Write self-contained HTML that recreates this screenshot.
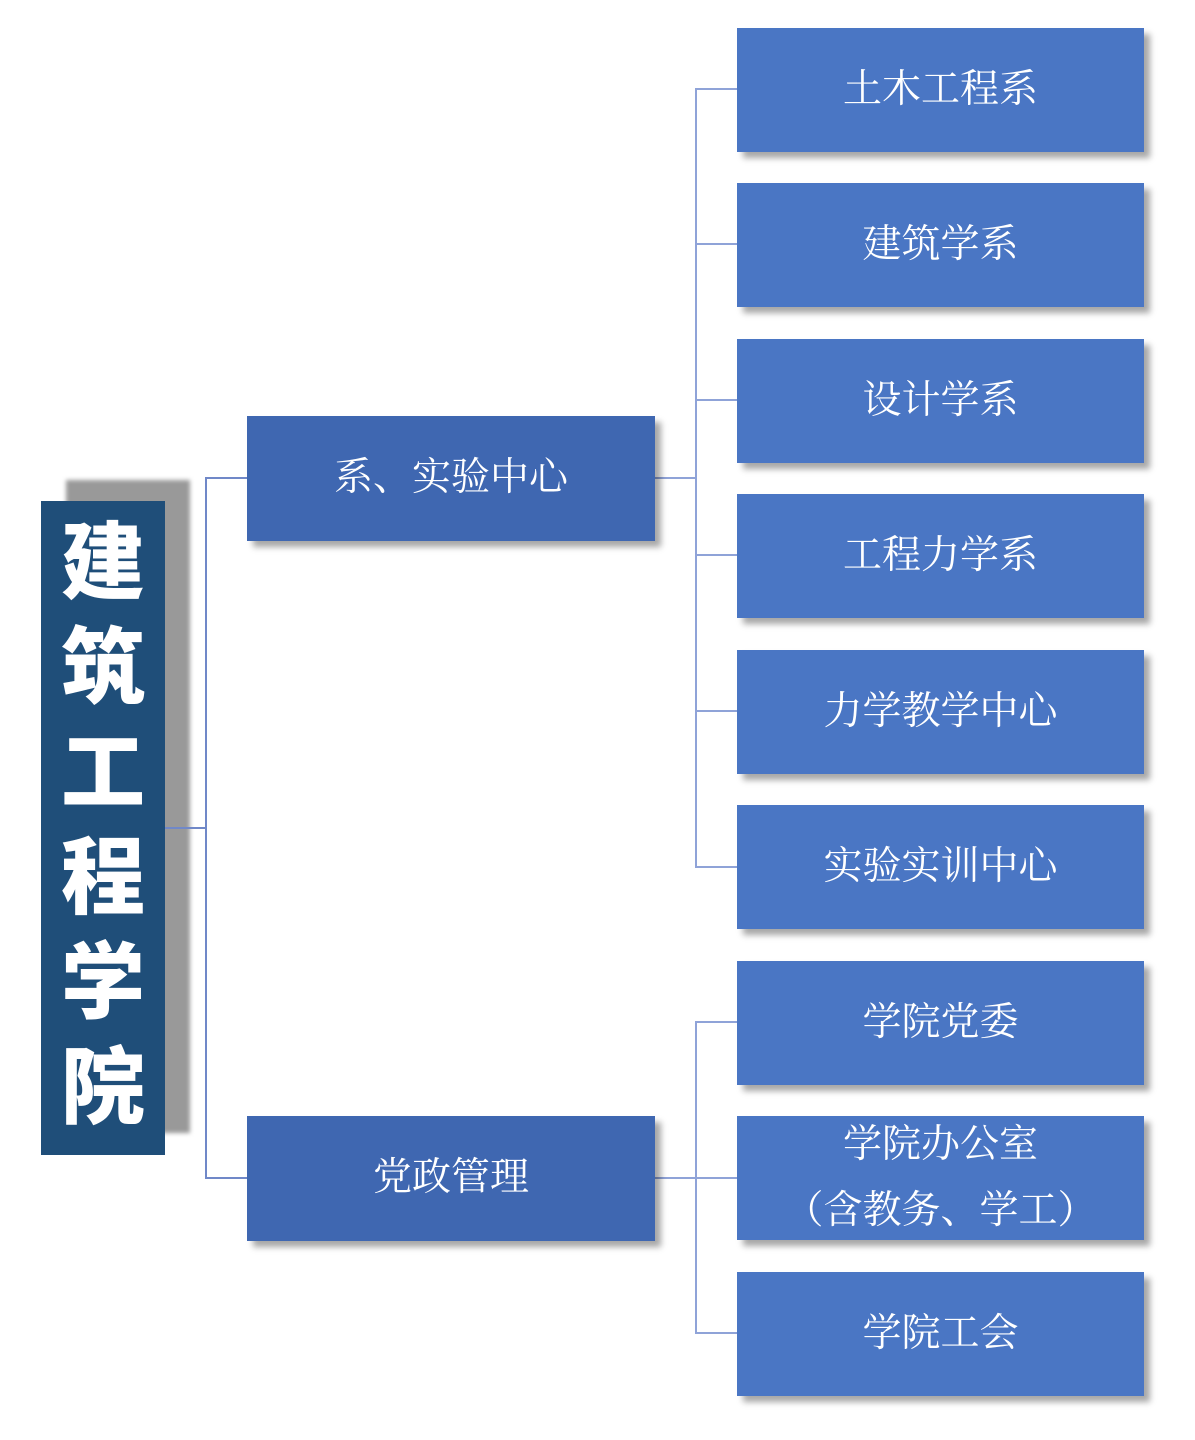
<!DOCTYPE html>
<html><head><meta charset="utf-8"><style>
body{margin:0;width:1195px;height:1440px;background:#fff;position:relative;overflow:hidden}
.b{position:absolute;display:flex;align-items:center;justify-content:center;color:#fff;text-align:center;
font-family:"Liberation Serif","Noto Serif CJK SC",serif;font-size:39px;line-height:1.35;box-shadow:6px 6px 6px rgba(0,0,0,.35)}
.r{left:737px;width:407px;height:124px;background:#4a76c4}
.m{left:247px;width:408px;height:125px;background:#3f67b1}
.l{position:absolute;background:#8fa3d8}
.l2{position:absolute;background:#7088c8}
</style></head><body>
<div style="position:absolute;left:66px;top:480px;width:124px;height:653px;background:#999;filter:blur(2px)"></div>
<div style="position:absolute;left:41px;top:501px;width:124px;height:654px;background:#1f4e79;color:#fff;font-family:'Noto Sans CJK SC',sans-serif;font-weight:900;font-size:84px;line-height:105px;text-align:center;padding-top:3px;box-sizing:border-box">建<br>筑<br>工<br>程<br>学<br>院</div>
<div class="l2" style="left:165px;top:827px;width:42px;height:2px"></div>
<div class="l2" style="left:205px;top:477px;width:2px;height:702px"></div>
<div class="l2" style="left:205px;top:477px;width:42px;height:2px"></div>
<div class="l2" style="left:205px;top:1177px;width:42px;height:2px"></div>
<div class="l" style="left:655px;top:477px;width:42px;height:2px"></div>
<div class="l" style="left:695px;top:88px;width:2px;height:780px"></div>
<div class="l" style="left:655px;top:1177px;width:82px;height:2px"></div>
<div class="l" style="left:695px;top:1021px;width:2px;height:313px"></div>
<div class="l" style="left:695px;top:88px;width:42px;height:2px"></div>
<div class="l" style="left:695px;top:243px;width:42px;height:2px"></div>
<div class="l" style="left:695px;top:399px;width:42px;height:2px"></div>
<div class="l" style="left:695px;top:554px;width:42px;height:2px"></div>
<div class="l" style="left:695px;top:710px;width:42px;height:2px"></div>
<div class="l" style="left:695px;top:866px;width:42px;height:2px"></div>
<div class="l" style="left:695px;top:1021px;width:42px;height:2px"></div>
<div class="l" style="left:695px;top:1332px;width:42px;height:2px"></div>
<div class="b m" style="top:416px">系、实验中心</div>
<div class="b m" style="top:1116px">党政管理</div>
<div class="b r" style="top:28px">土木工程系</div>
<div class="b r" style="top:183px">建筑学系</div>
<div class="b r" style="top:339px">设计学系</div>
<div class="b r" style="top:494px">工程力学系</div>
<div class="b r" style="top:650px">力学教学中心</div>
<div class="b r" style="top:805px">实验实训中心</div>
<div class="b r" style="top:961px">学院党委</div>
<div class="b r" style="top:1116px;line-height:1.68">学院办公室<br>（含教务、学工）</div>
<div class="b r" style="top:1272px">学院工会</div>
</body></html>
